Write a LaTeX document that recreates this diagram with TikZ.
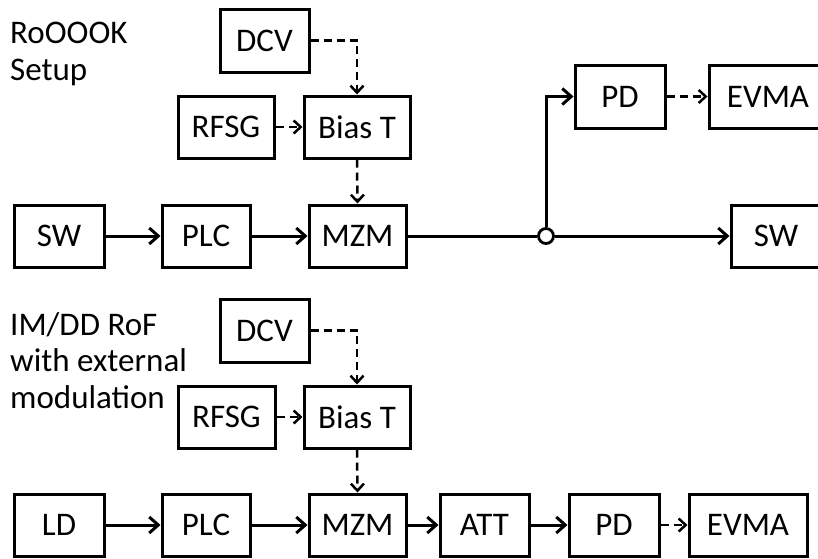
\documentclass[tikz,border=0pt]{standalone}
\usepackage{fontspec}
\setmainfont{Carlito}
\usetikzlibrary{arrows.meta}
\begin{document}
\begin{tikzpicture}[x=1pt,y=-1pt,
  box/.style={draw, line width=3pt, inner sep=0pt, minimum height=62pt, font=\fontsize{33}{37}\selectfont},
  lab/.style={anchor=base west, inner sep=0pt, font=\fontsize{33}{37}\selectfont},
  sarrow/.style={line width=3pt, -{Straight Barb[length=9pt,width=16pt,line width=3pt]}},
  darrow/.style={line width=2.5pt, dash pattern=on 8pt off 5pt, -{Straight Barb[length=7pt,width=13pt,line width=2.5pt]}},
  junction/.style={circle, draw, fill=white, line width=2.8pt, minimum size=15pt, inner sep=0pt}
]
\clip (0,0) rectangle (818,558);
\fill[white] (0,0) rectangle (818,558);

% ---- top: RoOOOK setup
\node[lab] (l1a) at (10,43) {RoOOOK};
\node[lab] (l1b) at (10,80) {Setup};

\node[box, minimum width=89pt, minimum height=63pt] (dcv1) at (264.5,40.5) {DCV};
\node[box, minimum width=96pt] (rfsg1) at (226,127) {RFSG};
\node[box, minimum width=106pt] (biast1) at (357,127) {Bias T};
\node[box, minimum width=90pt] (sw1) at (59,236) {SW};
\node[box, minimum width=88pt] (plc1) at (206,236) {PLC};
\node[box, minimum width=97pt] (mzm1) at (357.5,236) {MZM};
\node[junction] (j) at (546,236) {};
\node[box, minimum width=90pt, minimum height=63pt] (pd1) at (620,96.5) {PD};
\node[box, minimum width=118pt, minimum height=63pt] (evma1) at (768,96.5) {EVMA};
\node[box, minimum width=90pt] (sw2) at (776,236) {SW};

\draw[darrow] (dcv1.east) -| (biast1.north);
\draw[darrow] (rfsg1.east) -- (biast1.west);
\draw[darrow] (biast1.south) -- (mzm1.north);
\draw[sarrow] (sw1.east) -- (plc1.west);
\draw[sarrow] (plc1.east) -- (mzm1.west);
\draw[line width=3pt] (mzm1.east) -- (j.west);
\draw[sarrow] (j.east) -- (sw2.west);
\draw[sarrow] (j.north) |- (pd1.west);
\draw[darrow] (pd1.east) -- (evma1.west);

% ---- bottom: IM/DD RoF
\node[lab] (l2a) at (10,335) {IM/DD RoF};
\node[lab] (l2b) at (10,371.5) {with external};
\node[lab] (l2c) at (10,408) {modulation};

\node[box, minimum width=89pt, minimum height=63pt] (dcv2) at (264.5,330.5) {DCV};
\node[box, minimum width=97pt] (rfsg2) at (226.5,417) {RFSG};
\node[box, minimum width=106pt] (biast2) at (357,417) {Bias T};
\node[box, minimum width=90pt] (ld) at (59,525) {LD};
\node[box, minimum width=88pt] (plc2) at (206,525) {PLC};
\node[box, minimum width=97pt] (mzm2) at (357.5,525) {MZM};
\node[box, minimum width=89pt] (att) at (484.5,525) {ATT};
\node[box, minimum width=90pt] (pd2) at (614,525) {PD};
\node[box, minimum width=118pt] (evma2) at (748,525) {EVMA};

\draw[darrow] (dcv2.east) -| (biast2.north);
\draw[darrow] (rfsg2.east) -- (biast2.west);
\draw[darrow] (biast2.south) -- (mzm2.north);
\draw[sarrow] (ld.east) -- (plc2.west);
\draw[sarrow] (plc2.east) -- (mzm2.west);
\draw[sarrow] (mzm2.east) -- (att.west);
\draw[sarrow] (att.east) -- (pd2.west);
\draw[darrow] (pd2.east) -- (evma2.west);
\end{tikzpicture}
\end{document}
